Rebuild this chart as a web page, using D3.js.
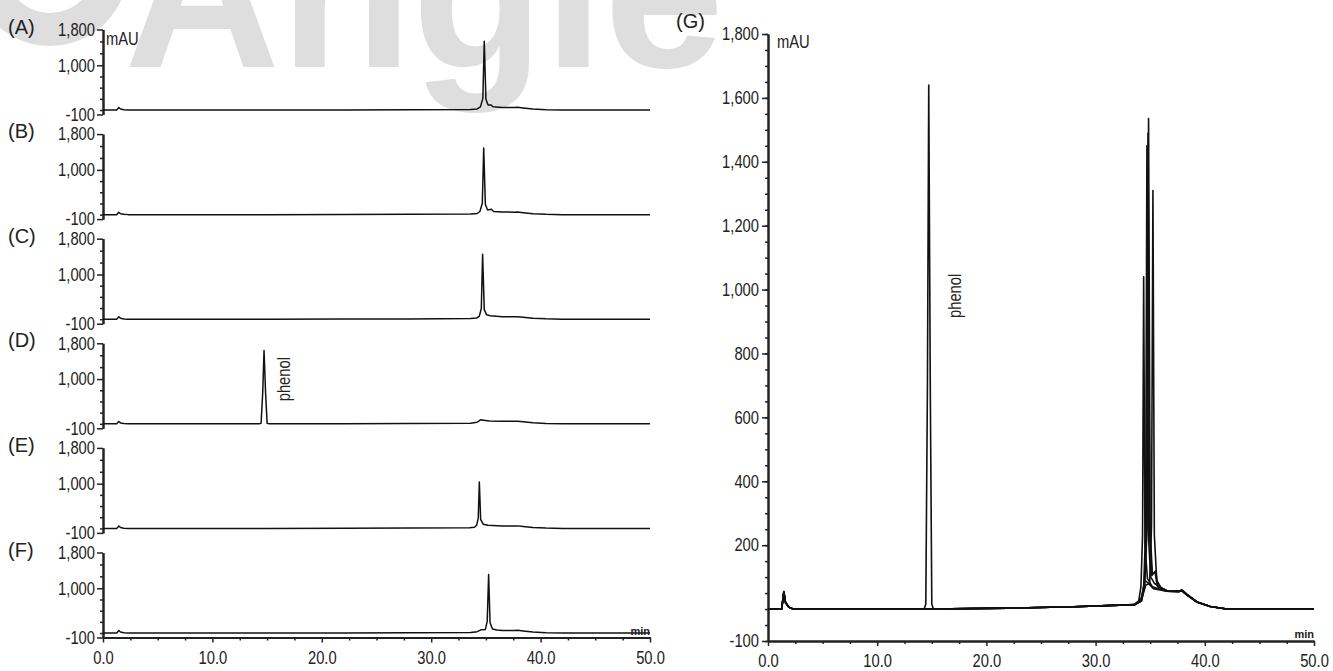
<!DOCTYPE html>
<html>
<head>
<meta charset="utf-8">
<script src="https://cdn.jsdelivr.net/npm/d3@7/dist/d3.min.js"></script>
<style>
  body { margin: 0; background: #fff; }
  svg { display: block; }
  text { font-family: "Liberation Sans", Arial, sans-serif; fill: #222; }
  .tick text { font-size: 18px; }
</style>
</head>
<body>
<script>
    // chromatogram traces, [time (min), absorbance (mAU)]
    var traceA = [[0,0],[1.25,0],[1.45,55],[1.6,22],[1.9,6],[2.3,0],[15,0],[22,3],[28,7],[33.6,14],[34.2,25],[34.5,70],[34.72,260],[34.85,1535],[35.0,240],[35.2,110],[35.45,115],[35.65,72],[36.5,58],[37.6,56],[37.9,60],[38.4,45],[39.3,22],[40.5,8],[42,0],[50,0]];
    var traceB = [[0,0],[1.25,0],[1.45,52],[1.6,20],[1.9,6],[2.3,0],[15,0],[22,3],[28,7],[33.6,14],[34.2,25],[34.45,70],[34.67,250],[34.8,1490],[34.95,230],[35.15,105],[35.5,120],[35.7,70],[36.5,58],[37.6,55],[37.9,58],[38.4,44],[39.3,22],[40.5,8],[42,0],[50,0]];
    var traceC = [[0,0],[1.25,0],[1.45,54],[1.6,21],[1.9,6],[2.3,0],[15,0],[22,3],[28,7],[33.6,14],[34.15,25],[34.4,70],[34.58,240],[34.7,1450],[34.85,220],[35.05,100],[35.4,80],[36.5,56],[37.6,54],[37.9,57],[38.4,43],[39.3,21],[40.5,8],[42,0],[50,0]];
    var traceD = [[0,0],[1.25,0],[1.45,50],[1.6,20],[1.9,6],[2.3,0],[14.3,0],[14.45,15],[14.6,700],[14.72,1640],[14.86,700],[15.0,15],[15.15,0],[22,3],[28,7],[33.6,14],[34.2,35],[34.5,90],[34.8,82],[35.3,64],[36.5,56],[37.6,55],[37.9,58],[38.4,44],[39.3,22],[40.5,8],[42,0],[50,0]];
    var traceE = [[0,0],[1.25,0],[1.45,53],[1.6,21],[1.9,6],[2.3,0],[15,0],[22,3],[28,7],[33.5,14],[33.95,25],[34.15,70],[34.3,230],[34.4,1040],[34.52,200],[34.75,95],[35.2,70],[36.5,56],[37.6,54],[37.9,57],[38.4,43],[39.3,21],[40.5,8],[42,0],[50,0]];
    var traceF = [[0,0],[1.25,0],[1.45,55],[1.6,22],[1.9,6],[2.3,0],[15,0],[22,3],[28,7],[33.6,14],[34.2,30],[34.6,75],[34.95,80],[35.12,260],[35.25,1310],[35.38,230],[35.6,90],[36.0,66],[36.5,58],[37.6,56],[37.9,60],[38.4,45],[39.3,22],[40.5,8],[42,0],[50,0]];

    var traces = [traceA, traceB, traceC, traceD, traceE, traceF];
    var panelLabels = ["(A)", "(B)", "(C)", "(D)", "(E)", "(F)"];

    // tick values
    var xMajor = [0, 10, 20, 30, 40, 50];
    var xMinor = [2.5, 5, 7.5, 12.5, 15, 17.5, 22.5, 25, 27.5, 32.5, 35, 37.5, 42.5, 45, 47.5];
    var ySmallMajor = [1800, 1000, -100];
    var ySmallMinor = [1533, 1267, 750, 500, 250, 0];
    var yBigMajor = [1800, 1600, 1400, 1200, 1000, 800, 600, 400, 200, -100];
    var yBigMinor = d3.range(-100, 1801, 50);

    var W = 1333, H = 671;
    var NARROW = 0.82;   // horizontal squeeze to mimic the condensed face

    var svg = d3.select("body").append("svg")
        .attr("width", W).attr("height", H);

    // faint watermark behind the chart
    var wm = svg.append("g").attr("fill", "#dedede");
    wm.append("path")
        .attr("d", d3.arc()({innerRadius: 45, outerRadius: 78, startAngle: 0, endAngle: 2 * Math.PI}))
        .attr("transform", "translate(50,-32)");
    wm.append("text")
        .attr("x", 124).attr("y", 67)
        .style("fill", "#dedede")
        .style("font-weight", "bold")
        .style("font-size", "216px")
        .text("Angie");

    var fmtY = function (d) { return d3.format(",")(d).replace("\u2212", "-"); };
    var fmtX = d3.format(".1f");

    var line = function (xs, ys) {
        return d3.line().x(function (d) { return xs(d[0]); }).y(function (d) { return ys(d[1]); });
    };

    function styleAxis(g) {
        g.select(".domain").attr("stroke", "#222").attr("stroke-width", 2);
        g.selectAll(".tick line").attr("stroke", "#222").attr("stroke-width", 1.5);
        g.selectAll(".tick text").each(function () {
            var t = d3.select(this);
            var x = +t.attr("x") || 0;
            t.attr("x", 0).attr("transform", "translate(" + x + ",0) scale(" + NARROW + ",1)");
        });
    }

    function narrowText(parent, x, y, size, str, rotate) {
        return parent.append("text")
            .attr("transform", "translate(" + x + "," + y + ")" + (rotate ? " rotate(-90)" : "") + " scale(" + NARROW + ",1)")
            .style("font-size", size + "px")
            .text(str);
    }

    // ---- left stack of six panels
    var xL = d3.scaleLinear().domain([0, 50]).range([103, 650]);
    var top0 = 29.5, step = 104.6, ph = 85;

    traces.forEach(function (tr, i) {
        var top = top0 + step * i;
        var y = d3.scaleLinear().domain([-100, 1800]).range([top + ph, top]);
        var g = svg.append("g");

        g.append("g").attr("transform", "translate(103,0)")
            .call(d3.axisLeft(y).tickValues(ySmallMinor).tickSize(3).tickSizeOuter(0).tickFormat(""))
            .call(styleAxis);
        g.append("g").attr("transform", "translate(103,0)")
            .call(d3.axisLeft(y).tickValues(ySmallMajor).tickSize(6).tickSizeOuter(0).tickFormat(fmtY).tickPadding(2))
            .call(styleAxis);

        g.append("path").datum(tr)
            .attr("d", line(xL, y))
            .attr("fill", "none").attr("stroke", "#111").attr("stroke-width", 1.5)
            .attr("stroke-linejoin", "round");

        g.append("text")
            .attr("x", 8).attr("y", top - 3).attr("dy", "0.35em")
            .style("font-size", "20px")
            .text(panelLabels[i]);

        if (i === 0) {
            narrowText(g, 106, top + 15, 18, "mAU");
        }
        if (i === 3) {
            narrowText(g, 290, top + 58, 18, "phenol", true);
        }
        if (i === 5) {
            var bot = top + ph;
            g.append("g").attr("transform", "translate(0," + bot + ")")
                .call(d3.axisBottom(xL).tickValues(xMinor).tickSize(3).tickSizeOuter(0).tickFormat(""))
                .call(styleAxis);
            g.append("g").attr("transform", "translate(0," + bot + ")")
                .call(d3.axisBottom(xL).tickValues(xMajor).tickSize(5).tickSizeOuter(0).tickFormat(fmtX).tickPadding(9))
                .call(styleAxis);
            g.append("text")
                .style("font-size", "11px").style("font-weight", "bold")
                .attr("x", 650).attr("y", bot - 3).attr("text-anchor", "end").text("min");
        }
    });

    // ---- overlay panel (G)
    var xG = d3.scaleLinear().domain([0, 50]).range([768, 1314]);
    var yG = d3.scaleLinear().domain([-100, 1800]).range([641, 34]);
    var gG = svg.append("g");

    gG.append("g").attr("transform", "translate(768,0)")
        .call(d3.axisLeft(yG).tickValues(yBigMinor).tickSize(3).tickSizeOuter(0).tickFormat(""))
        .call(styleAxis);
    gG.append("g").attr("transform", "translate(768,0)")
        .call(d3.axisLeft(yG).tickValues(yBigMajor).tickSize(6).tickSizeOuter(0).tickFormat(fmtY).tickPadding(3))
        .call(styleAxis);
    gG.append("g").attr("transform", "translate(0,641)")
        .call(d3.axisBottom(xG).tickValues(xMinor).tickSize(3).tickSizeOuter(0).tickFormat(""))
        .call(styleAxis);
    gG.append("g").attr("transform", "translate(0,641)")
        .call(d3.axisBottom(xG).tickValues(xMajor).tickSize(5).tickSizeOuter(0).tickFormat(fmtX).tickPadding(8))
        .call(styleAxis);

    gG.selectAll("path.trace").data(traces).enter().append("path")
        .attr("class", "trace")
        .attr("d", line(xG, yG))
        .attr("fill", "none").attr("stroke", "#111").attr("stroke-width", 1.6)
        .attr("stroke-linejoin", "round");

    gG.append("text").attr("x", 676).attr("y", 21).attr("dy", "0.35em")
        .style("font-size", "20px").text("(G)");
    narrowText(gG, 777, 48, 18, "mAU");
    narrowText(gG, 961, 318, 18, "phenol", true);
    gG.append("text")
        .style("font-size", "11px").style("font-weight", "bold")
        .attr("x", 1314).attr("y", 638).attr("text-anchor", "end").text("min");
</script>
</body>
</html>
